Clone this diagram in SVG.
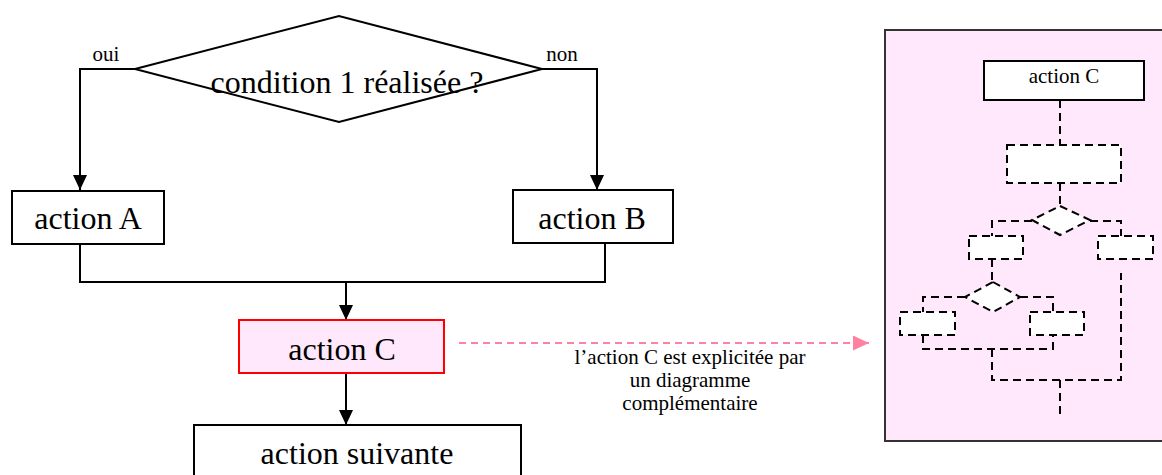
<svg xmlns="http://www.w3.org/2000/svg" width="1162" height="475" viewBox="0 0 1162 475">
<style>
  .big { font-family: "Liberation Serif", "Times New Roman", serif; font-size: 32px; fill: #000; text-anchor: middle; }
  .small { font-family: "Liberation Serif", "Times New Roman", serif; font-size: 21px; fill: #000; text-anchor: middle; }
  .box { fill: #fff; stroke: #000; stroke-width: 2; }
  .conn { fill: none; stroke: #000; stroke-width: 2; }
  .dash { fill: none; stroke: #000; stroke-width: 2; stroke-dasharray: 8 5; }
  .dashbox { fill: #fff; stroke: #000; stroke-width: 2; stroke-dasharray: 8 5; }
</style>
<defs>
  <marker id="arr" markerUnits="userSpaceOnUse" markerWidth="16" markerHeight="15" refX="15" refY="7" orient="auto">
    <path d="M0,0 L15,7 L0,14 z" fill="#000"/>
  </marker>
  <marker id="parr" markerUnits="userSpaceOnUse" markerWidth="17" markerHeight="16" refX="16" refY="7.5" orient="auto">
    <path d="M0,0 L16,7.5 L0,15 z" fill="#ff80a0"/>
  </marker>
</defs>
<rect x="0" y="0" width="1162" height="475" fill="#fff"/>

<g id="connectors">
  <polyline class="conn" points="135,69 80,69 80,190" marker-end="url(#arr)"/>
  <polyline class="conn" points="542,69 597,69 597,190" marker-end="url(#arr)"/>
  <polyline class="conn" points="80,244 80,282 605,282 605,243"/>
  <line class="conn" x1="346" y1="282" x2="346" y2="320" marker-end="url(#arr)"/>
  <line class="conn" x1="346" y1="373" x2="346" y2="425" marker-end="url(#arr)"/>
  <line x1="459" y1="343" x2="869" y2="343" stroke="#ff80a0" stroke-width="2" stroke-dasharray="7 5" marker-end="url(#parr)"/>
</g>

<g id="cond1">
  <polygon points="135,69 339,16 542,69 339,122" fill="#fff" stroke="#000" stroke-width="2"/>
  <text class="big" x="347" y="93">condition 1 réalisée ?</text>
  <text class="small" x="106" y="61">oui</text>
  <text class="small" x="562" y="61">non</text>
</g>

<g id="actionA">
  <rect class="box" x="12" y="191" width="152" height="53"/>
  <text class="big" x="88" y="229">action A</text>
</g>

<g id="actionB">
  <rect class="box" x="513" y="190" width="160" height="53"/>
  <text class="big" x="592" y="229">action B</text>
</g>

<g id="actionC">
  <rect x="239" y="320" width="205" height="53" fill="#ffe8fc" stroke="#ff0000" stroke-width="2"/>
  <text class="big" x="342" y="360">action C</text>
</g>

<g id="actionSuivante">
  <rect class="box" x="194" y="425" width="327" height="70"/>
  <text class="big" x="357" y="464">action suivante</text>
</g>

<g id="note">
  <text class="small" x="690" y="364">l’action C est explicitée par</text>
  <text class="small" x="690" y="387">un diagramme</text>
  <text class="small" x="690" y="410">complémentaire</text>
</g>

<g id="panel">
  <rect x="885" y="30" width="300" height="411" fill="#ffe8fc" stroke="#333" stroke-width="2"/>
  <rect class="box" x="984" y="61" width="160" height="39"/>
  <text class="small" x="1064" y="83">action C</text>
  <g id="panel-connectors">
    <line class="dash" x1="1060" y1="100" x2="1060" y2="145"/>
    <line class="dash" x1="1060" y1="183" x2="1060" y2="206"/>
    <polyline class="dash" points="1032,221 992,221 992,236"/>
    <polyline class="dash" points="1090,221 1121,221 1121,236"/>
    <line class="dash" x1="992" y1="259" x2="992" y2="282"/>
    <polyline class="dash" points="965,297 923,297 923,312"/>
    <polyline class="dash" points="1020,297 1053,297 1053,312"/>
    <polyline class="dash" points="923,335 923,349 1053,349 1053,335"/>
    <polyline class="dash" points="992,349 992,380 1121,380 1121,273"/>
    <line class="dash" x1="1060" y1="380" x2="1060" y2="415"/>
  </g>
  <rect class="dashbox" x="1007" y="145" width="114" height="38"/>
  <polygon class="dashbox" points="1060,206 1090,220 1060,235 1032,220"/>
  <rect class="dashbox" x="969" y="236" width="54" height="23"/>
  <rect class="dashbox" x="1098" y="236" width="55" height="23"/>
  <polygon class="dashbox" points="993,282 1020,297 993,312 965,297"/>
  <rect class="dashbox" x="900" y="312" width="55" height="23"/>
  <rect class="dashbox" x="1030" y="312" width="54" height="23"/>
</g>
</svg>
